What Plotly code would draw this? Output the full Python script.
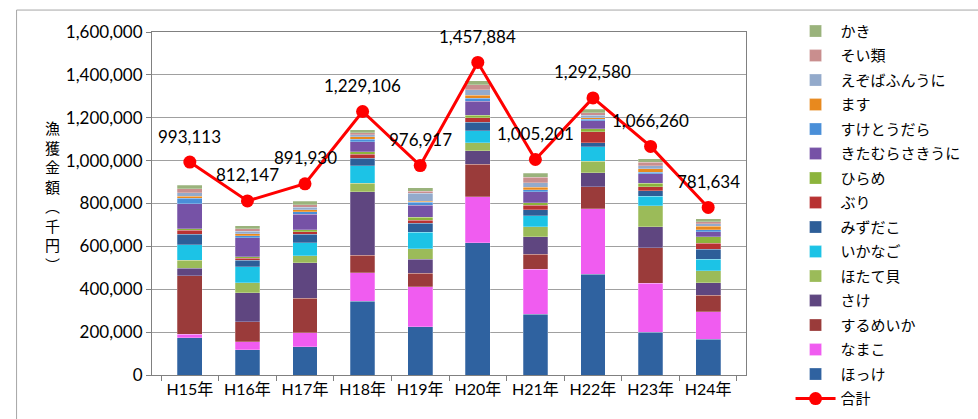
import plotly.graph_objects as go

years = ["H15年", "H16年", "H17年", "H18年", "H19年", "H20年", "H21年", "H22年", "H23年", "H24年"]

hokke      = [174000, 117000, 131000, 345000, 225000, 617000, 283000, 470000, 199000, 166000]
namako     = [16000, 39000, 67000, 132000, 187000, 215000, 211000, 305000, 229000, 129000]
surumeika  = [272000, 93000, 160000, 81000, 62000, 151000, 70000, 104000, 166000, 78000]
sake       = [36000, 135000, 165000, 297000, 65000, 64000, 81000, 65000, 98000, 58000]
hotategai  = [37000, 47000, 34000, 39000, 51000, 37000, 47000, 54000, 98000, 56000]
ikanago    = [72000, 73000, 61000, 82000, 75000, 55000, 50000, 67000, 45000, 53000]
mizudako   = [50000, 31000, 39000, 34000, 42000, 40000, 28000, 19000, 25000, 47000]
buri       = [19000, 9000, 11000, 19000, 16000, 20000, 22000, 51000, 19000, 28000]
hirame     = [6000, 8000, 9000, 12000, 12000, 12000, 12000, 14000, 16000, 31000]
kitamurasaki = [118000, 89000, 73000, 47000, 58000, 66000, 51000, 37000, 44000, 23000]
suketoudara = [24000, 8000, 12000, 12000, 12000, 15000, 8000, 6000, 6000, 8000]
masu       = [10000, 10000, 9000, 11000, 6000, 12000, 12000, 9000, 17000, 16000]
ezobafun   = [16000, 12000, 12000, 9000, 36000, 26000, 22000, 11000, 14000, 12000]
soi        = [18000, 12000, 12000, 11000, 11000, 24000, 25000, 11000, 16000, 11000]
kaki       = [18000, 14000, 16000, 14000, 16000, 18000, 19000, 16000, 16000, 12000]

total = [993113, 812147, 891930, 1229106, 976917, 1457884, 1005201, 1292580, 1066260, 781634]

species_names = ["ほっけ", "なまこ", "するめいか", "さけ", "ほたて貝", "いかなご", "みずだこ", "ぶり",
                 "ひらめ", "きたむらさきうに", "すけとうだら", "ます", "えぞばふんうに", "そい類", "かき"]
species_values = [hokke, namako, surumeika, sake, hotategai, ikanago, mizudako, buri,
                  hirame, kitamurasaki, suketoudara, masu, ezobafun, soi, kaki]
species_colors = ["#2f62a0", "#f05cf0", "#9a3b3a", "#5f4680", "#9bbb59", "#1cc3e6", "#2d5e98", "#b83232",
                  "#8cb43c", "#7652a6", "#4a8fd8", "#e8891e", "#93aacb", "#c98e8e", "#9ab37c"]

FONT = "Lato, 'Noto Sans CJK JP', sans-serif"

fig = go.Figure()
n = len(species_names)
for i, (name, vals, col) in enumerate(zip(species_names, species_values, species_colors)):
    fig.add_trace(go.Bar(
        x=years, y=vals, name=name, legendgroup=name,
        marker=dict(color=col, line=dict(color="rgba(255,255,255,0.5)", width=0.5)),
        legendrank=n - i,
    ))

fig.add_trace(go.Scatter(
    x=years, y=total, name="合計", legendgroup="合計", mode="lines+markers",
    line=dict(color="#ff0000", width=3),
    marker=dict(color="#ff0000", size=13),
    legendrank=n + 1,
))

for xv, yv in zip(years, total):
    fig.add_annotation(x=xv, y=yv, text=f"{yv:,}", showarrow=False, yshift=26,
                       font=dict(size=17, color="#000000", family=FONT))

fig.add_annotation(
    xref="paper", yref="paper", x=-0.168, y=0.52,
    text="<br>".join(list("漁獲金額︵千円︶")), showarrow=False,
    font=dict(size=15, color="#000000", family=FONT), xanchor="center", yanchor="middle",
)

fig.add_shape(type="rect", xref="paper", yref="paper", x0=-0.228, y0=-0.3, x1=1.5, y1=1.064,
              line=dict(color="#a6a6a6", width=1), layer="below")

fig.update_layout(
    width=978, height=419,
    margin=dict(l=152, r=195, t=32, b=44),
    barmode="stack", bargap=0.57,
    plot_bgcolor="#ffffff", paper_bgcolor="#ffffff",
    font=dict(family=FONT, size=16, color="#000000"),
    showlegend=True,
    legend=dict(x=1.075, y=1.05, xanchor="left", yanchor="top",
                font=dict(size=15, family=FONT), bgcolor="rgba(0,0,0,0)",
                traceorder="grouped", tracegroupgap=2, itemwidth=40,
                maxheight=419),
)
fig.update_xaxes(type="category", showline=True, linecolor="#808080", mirror=True,
                 ticks="outside", tickson="boundaries", ticklen=5, tickcolor="#808080",
                 tickfont=dict(size=16, family=FONT))
fig.update_yaxes(range=[0, 1600000], dtick=200000, tickformat=",d",
                 showgrid=True, gridcolor="#a0a0a0", gridwidth=1,
                 showline=True, linecolor="#808080", mirror=True,
                 ticks="outside", ticklen=5, tickcolor="#808080",
                 tickfont=dict(size=17, family=FONT), zeroline=False)

fig.write_html("out.html")
